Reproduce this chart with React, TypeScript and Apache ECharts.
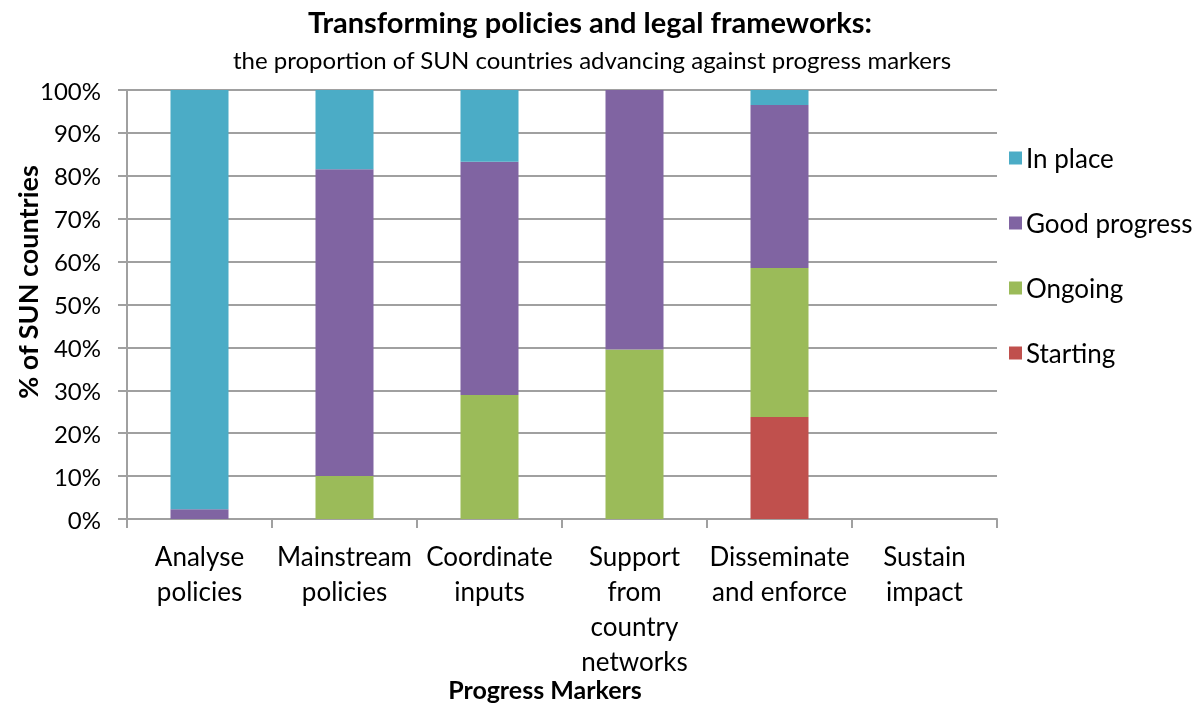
import React, { useEffect, useRef } from "react";
import * as echarts from "echarts";

const categories = [
  "Analyse\npolicies",
  "Mainstream\npolicies",
  "Coordinate\ninputs",
  "Support\nfrom\ncountry\nnetworks",
  "Disseminate\nand enforce",
  "Sustain\nimpact",
];
const starting = [0, 0, 0, 0, 23.8, 0];
const ongoing = [0, 10, 28.9, 39.5, 34.7, 0];
const goodProgress = [2.3, 71.5, 54.4, 60.5, 38, 0];
const inPlace = [97.7, 18.5, 16.7, 0, 3.5, 0];

const FONT = "Lato";

export default function App() {
  const ref = useRef<HTMLDivElement>(null);
  useEffect(() => {
    if (!ref.current) return;
    const chart = echarts.init(ref.current, undefined, { renderer: "svg" });
    const mk = (name: string, data: number[], color: string) => ({
      name,
      type: "bar",
      stack: "total",
      data,
      barWidth: "40%",
      itemStyle: { color },
    });
    chart.setOption({
      animation: false,
      textStyle: { fontFamily: FONT },
      title: [
        {
          text: "Transforming policies and legal frameworks:",
          left: 585,
          top: 2,
          textAlign: "center",
          textStyle: { fontFamily: FONT, fontSize: 29, fontWeight: "bold", color: "#000" },
        },
        {
          text: "the proportion of SUN countries advancing against progress markers",
          left: 587,
          top: 42,
          textAlign: "center",
          textStyle: { fontFamily: FONT, fontSize: 24, fontWeight: "normal", color: "#000" },
        },
      ],
      legend: {
        orient: "vertical",
        left: 1004,
        top: 140,
        itemWidth: 13,
        itemHeight: 13,
        itemGap: 39,
        icon: "rect",
        data: ["In place", "Good progress", "Ongoing", "Starting"],
        textStyle: { fontFamily: FONT, fontSize: 26, color: "#000", padding: [0, 0, 0, -1] },
      },
      graphic: [
        {
          type: "text",
          x: 27,
          y: 282,
          rotation: Math.PI / 2,
          style: {
            text: "% of SUN countries",
            font: `bold 27px ${FONT}`,
            fill: "#000",
            align: "center",
            verticalAlign: "middle",
          },
        },
        {
          type: "text",
          x: 545,
          y: 689,
          style: {
            text: "Progress Markers",
            font: `bold 25px ${FONT}`,
            fill: "#000",
            align: "center",
            verticalAlign: "middle",
          },
        },
      ],
      grid: { left: 127, right: 202, top: 90, bottom: 185, containLabel: false },
      xAxis: {
        type: "category",
        data: categories,
        axisLine: { lineStyle: { color: "#a0a0a0", width: 2 } },
        axisTick: { show: true, length: 9, interval: 0, lineStyle: { color: "#a0a0a0", width: 2 } },
        axisLabel: {
          interval: 0,
          fontFamily: FONT,
          fontSize: 26,
          color: "#000",
          lineHeight: 35,
          margin: 19,
        },
      },
      yAxis: {
        type: "value",
        min: 0,
        max: 100,
        interval: 10,
        axisLine: { show: true, lineStyle: { color: "#a0a0a0", width: 2 } },
        axisTick: { show: true, length: 9, lineStyle: { color: "#a0a0a0", width: 2 } },
        splitLine: { show: true, lineStyle: { color: "#a0a0a0", width: 2 } },
        axisLabel: {
          formatter: "{value}%",
          fontFamily: FONT,
          fontSize: 24,
          color: "#000",
          margin: 26,
        },
      },
      series: [
        mk("Starting", starting, "#C0504D"),
        mk("Ongoing", ongoing, "#9BBB59"),
        mk("Good progress", goodProgress, "#8064A2"),
        mk("In place", inPlace, "#4BACC6"),
      ],
    });
    return () => chart.dispose();
  }, []);
  return (
    <div
      ref={ref}
      style={{ position: "fixed", left: 0, top: 0, width: 1199, height: 704 }}
    />
  );
}
